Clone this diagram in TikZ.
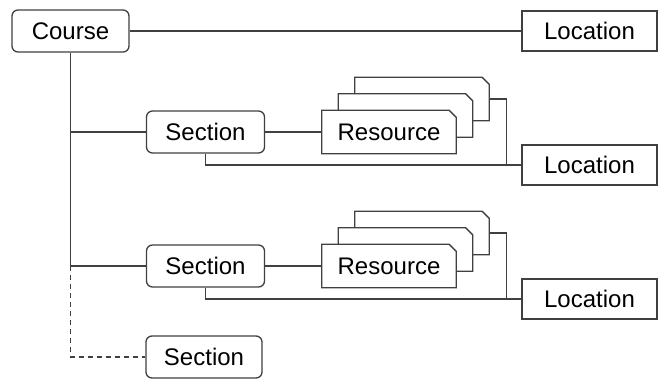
\documentclass[tikz,border=0pt]{standalone}
\usepackage{fontspec}
\setmainfont{Liberation Sans}

% Umriss mit abgeschraegter Ecke oben rechts
\newcommand{\resframe}[1]{%
  \draw[line] (#1.south west) -- (#1.north west) -- ([xshift=-7pt]#1.north east)
    -- ([yshift=-7pt]#1.north east) -- (#1.south east) -- cycle;}

\begin{document}
\begin{tikzpicture}[
    x=1pt, y=1pt,
    every node/.style={font=\fontsize{24}{28}\selectfont},
    line/.style={draw=black!75, line width=1.3pt},
    roundbox/.style={line, rectangle, rounded corners=6pt, fill=white, minimum width=118pt, minimum height=42pt, inner sep=0pt},
    locbox/.style={line, rectangle, fill=white, minimum width=135pt, minimum height=40pt, inner sep=0pt},
    resbox/.style={rectangle, fill=white, minimum width=134pt, minimum height=43pt, inner sep=0pt},
]
\useasboundingbox (0,0) rectangle (663,-378);

% Course
\node[roundbox, minimum width=117pt] (course) at (70.5,-31) {Course};
\node[locbox] (loc1) at (589.5,-31) {Location};

% erste Section
\node[roundbox] (sec1) at (205.5,-132) {Section};
\node[resbox] (res1c) at (422,-99) {};
\resframe{res1c}
\node[resbox] (res1b) at (405.5,-115.5) {};
\resframe{res1b}
\node[resbox] (res1a) at (389,-132) {Resource};
\resframe{res1a}
\node[locbox] (loc2) at (589.5,-165) {Location};

% zweite Section
\node[roundbox] (sec2) at (205.5,-266) {Section};
\node[resbox] (res2c) at (422,-233) {};
\resframe{res2c}
\node[resbox] (res2b) at (405.5,-249.5) {};
\resframe{res2b}
\node[resbox] (res2a) at (389,-266) {Resource};
\resframe{res2a}
\node[locbox] (loc3) at (589.5,-299) {Location};

% weitere Section
\node[roundbox, minimum width=116pt] (sec3) at (204,-357) {Section};

% Linien
\draw[line] (course.east) -- (loc1.west);
\draw[line] (course.south) |- (sec1.west);
\draw[line] (course.south) |- (sec2.west);
\draw[line, dashed, dash pattern=on 5pt off 4pt] (course.south |- sec2.west) |- (sec3.west);
\draw[line] (sec1.east) -- (res1a.west);
\draw[line] (sec2.east) -- (res2a.west);
\draw[line] (sec1.south) |- (loc2.west);
\draw[line] (sec2.south) |- (loc3.west);
\draw[line] (res1c.east) -- ++(17,0) |- (loc2.west);
\draw[line] (res2c.east) -- ++(17,0) |- (loc3.west);

\end{tikzpicture}
\end{document}
